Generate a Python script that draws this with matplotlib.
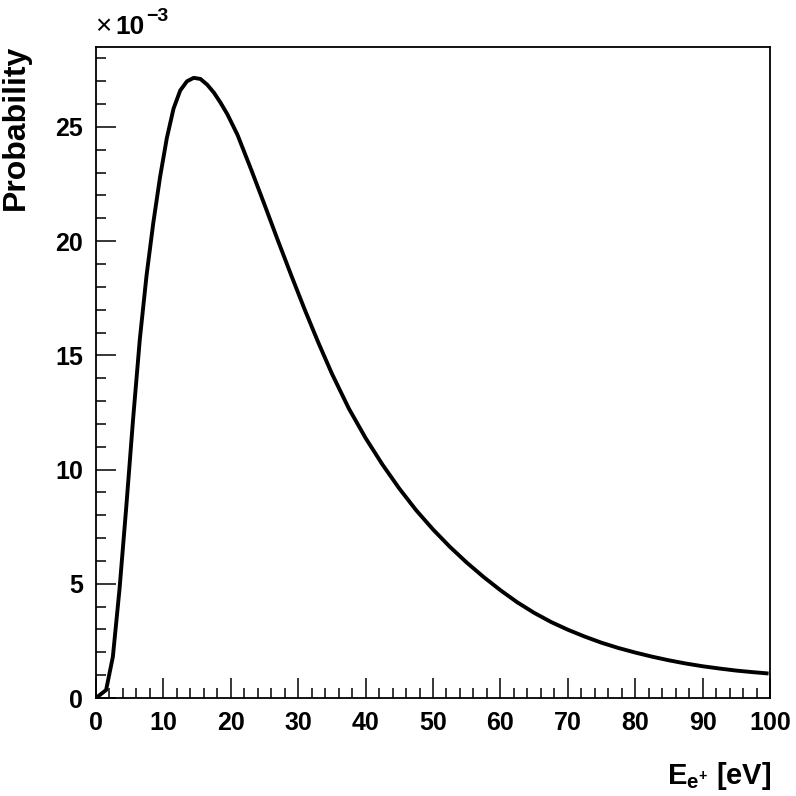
import numpy as np
import matplotlib
matplotlib.use("Agg")
import matplotlib.pyplot as plt
from matplotlib.ticker import MultipleLocator

plt.rcParams['font.family'] = ['Liberation Sans', 'DejaVu Sans']
plt.rcParams['mathtext.fontset'] = 'custom'
plt.rcParams['mathtext.rm'] = 'Liberation Sans:bold'
plt.rcParams['mathtext.bf'] = 'Liberation Sans:bold'

# Positron energy (eV) and probability (units of 1e-3)
energy = [0, 1.5, 2.5, 3.5, 4.5, 5.5, 6.5, 7.5, 8.5, 9.5, 10.5, 11.5, 12.5,
          13.5, 14.5, 15.5, 16.5, 17.5, 18.5, 19.5, 21, 23, 25, 27, 29, 31,
          33, 35, 37.5, 40, 42.5, 45, 47.5, 50, 52.5, 55, 57.5, 60, 62.5,
          65, 67.5, 70, 72.5, 75, 77.5, 80, 82.5, 85, 87.5, 90, 92.5, 95,
          97.5, 99.5]
prob = [0, 0.35, 1.8, 4.8, 8.4, 12.2, 15.7, 18.5, 20.8, 22.8, 24.5, 25.8,
        26.6, 27.0, 27.15, 27.1, 26.85, 26.5, 26.05, 25.55, 24.65, 23.15,
        21.6, 20.02, 18.48, 16.98, 15.55, 14.2, 12.68, 11.38, 10.22, 9.17,
        8.22, 7.38, 6.62, 5.93, 5.3, 4.72, 4.19, 3.73, 3.33, 2.99, 2.69,
        2.42, 2.19, 1.99, 1.81, 1.65, 1.51, 1.39, 1.29, 1.2, 1.13, 1.08]

fig = plt.figure(figsize=(7.96, 7.96), dpi=100)
ax = fig.add_axes([96 / 796, 98 / 796, 674 / 796, 651 / 796])

ax.plot(energy, np.array(prob) * 1e-3, color='black', linewidth=2.8,
        solid_joinstyle='round')

ax.set_xlim(0, 100)
ax.set_ylim(0, 0.0285)
ax.xaxis.set_minor_locator(MultipleLocator(2))
ax.yaxis.set_minor_locator(MultipleLocator(0.001))
ax.set_xticks(np.arange(0, 101, 10))
ax.set_xticklabels([str(v) for v in range(0, 101, 10)])
ax.set_yticks(np.arange(0, 0.0251, 0.005))
ax.set_yticklabels([str(v) for v in range(0, 26, 5)])

ax.tick_params(which='both', direction='in', top=False, right=False)
ax.tick_params(which='major', length=14.4, width=1.1, labelsize=18, pad=9.5)
ax.tick_params(which='minor', length=7.2, width=1.1)
for lbl in ax.get_xticklabels() + ax.get_yticklabels():
    lbl.set_fontweight('bold')
for s in ax.spines.values():
    s.set_linewidth(1.3)

# axis titles
ax.set_ylabel('Probability', fontsize=23, fontweight='bold')
ax.yaxis.set_label_coords(-0.096, 1.003)
ax.yaxis.label.set_horizontalalignment('right')
fig.text(771 / 796, 1 - 784 / 796, r'$\mathbf{E_{e^{+}}}$ [eV]',
         fontsize=21, fontweight='bold', ha='right', va='baseline')

# exponent marker
fig.text(95 / 796, 1 - 34 / 796, '\u00d7', fontsize=20, ha='left', va='baseline')
fig.text(115 / 796, 1 - 34 / 796, '10', fontsize=19, fontweight='bold',
         ha='left', va='baseline')
fig.text(146 / 796, 1 - 21 / 796, '\u22123', fontsize=14, fontweight='bold',
         ha='left', va='baseline')

fig.savefig('out.png', dpi=100)
